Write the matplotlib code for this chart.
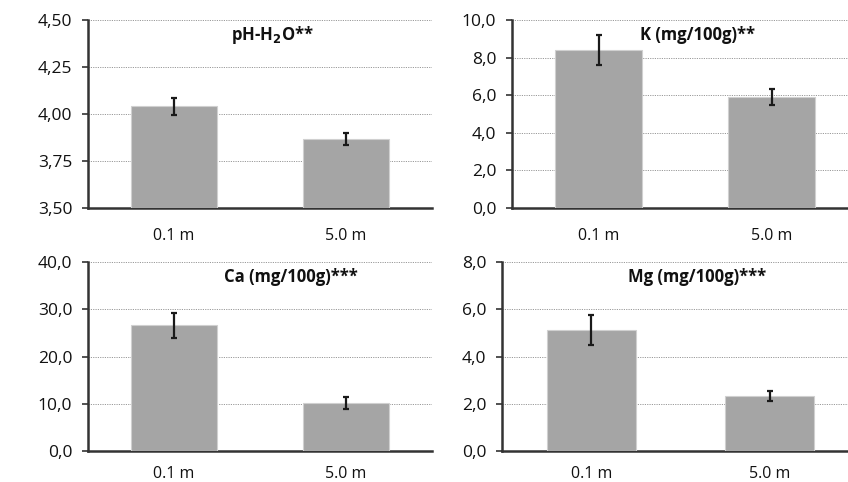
import numpy as np
import matplotlib
matplotlib.use("Agg")
import matplotlib.pyplot as plt
from matplotlib.ticker import FuncFormatter

plt.rcParams['font.family'] = ['Open Sans', 'DejaVu Sans']

depths = ["0.1 m", "5.0 m"]

# values
ph_mean = [4.04, 3.865]
ph_err = [0.045, 0.032]
k_mean = [8.40, 5.92]
k_err = [0.82, 0.42]
ca_mean = [26.6, 10.2]
ca_err = [2.7, 1.3]
mg_mean = [5.12, 2.34]
mg_err = [0.63, 0.22]

panels = [
    # title, mean, err, ylim, yticks, decimals, axes rect, title x, x label pad
    (r"pH-H$_\mathbf{2}$O**", ph_mean, ph_err, (3.5, 4.5), [3.5, 3.75, 4.0, 4.25, 4.5], 2,
     [0.1038, 0.5685, 0.4057, 0.390], 0.535, 14.5),
    ("K (mg/100g)**", k_mean, k_err, (0, 10), [0, 2, 4, 6, 8, 10], 1,
     [0.6038, 0.5685, 0.408, 0.390], 0.537, 14.5),
    ("Ca (mg/100g)***", ca_mean, ca_err, (0, 40), [0, 10, 20, 30, 40], 1,
     [0.1038, 0.0643, 0.4057, 0.392], 0.59, 10.5),
    ("Mg (mg/100g)***", mg_mean, mg_err, (0, 8), [0, 2, 4, 6, 8], 1,
     [0.592, 0.0643, 0.421, 0.392], 0.546, 10.5),
]

fig = plt.figure(figsize=(8.48, 4.82), dpi=100)

for title, mean, err, ylim, yticks, dec, rect, tx, xpad in panels:
    ax = fig.add_axes(rect)
    x = np.arange(len(depths))
    base = ylim[0]
    heights = [m - base for m in mean]
    ax.bar(x, heights, bottom=base, width=0.5, color="#a5a5a5", edgecolor="#d0d0d0",
           linewidth=0.8, zorder=3)
    ax.errorbar(x, mean, yerr=err, fmt="none", ecolor="#1a1a1a", elinewidth=1.6,
                capsize=2.5, capthick=1.6, zorder=4)
    ax.set_xlim(-0.5, 1.5)
    ax.set_ylim(*ylim)
    ax.set_yticks(yticks)
    ax.yaxis.set_major_formatter(FuncFormatter(
        lambda v, p, d=dec: f"{v:.{d}f}".replace(".", ",")))
    ax.set_xticks(x)
    ax.set_xticklabels(depths)
    ax.tick_params(axis="x", length=0, pad=xpad, labelsize=11.5, colors="#111111")
    ax.tick_params(axis="y", length=4.3, width=1.2, color="#333333", pad=7,
                   labelsize=12.5, labelcolor="#111111")
    ax.grid(axis="y", linestyle=(0, (1.2, 1.2)), color="#999999", linewidth=0.7, zorder=0)
    for s in ["top", "right"]:
        ax.spines[s].set_visible(False)
    for s in ["left", "bottom"]:
        ax.spines[s].set_color("#333333")
        ax.spines[s].set_linewidth(1.8)
    ax.text(tx, 0.92, title, transform=ax.transAxes, ha="center", va="center",
            fontsize=12, fontweight="bold", color="#111111")

fig.savefig("out.png", dpi=100)
